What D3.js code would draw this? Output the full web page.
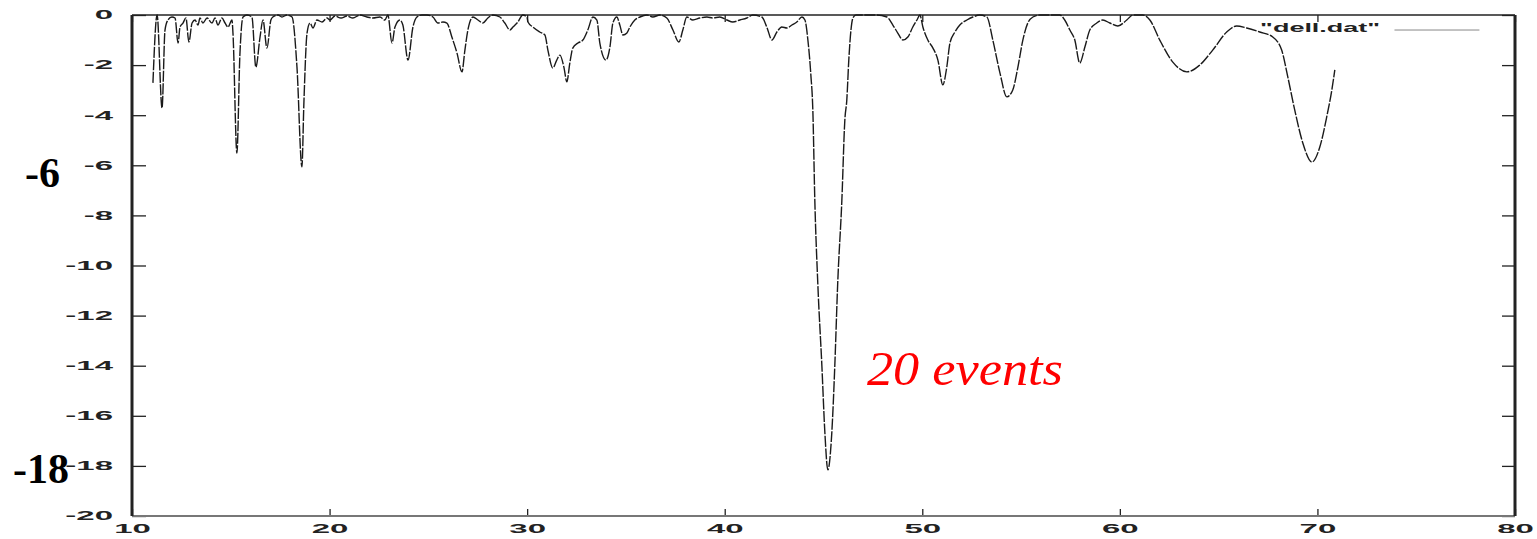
<!DOCTYPE html>
<html lang="en">
<head>
  <meta charset="UTF-8">
  <script type="text/javascript" src="https://cdn.jsdelivr.net/npm/d3@7/dist/d3.min.js"></script>
  <title>dell.dat</title>
  <style type="text/css">
    * {
      margin: 0;
      padding: 0;
    }

    html, body {
      width: 100%;
      height: 100%;
      background-color: #fff;
      overflow: hidden;
    }
  </style>
</head>

<body>
<div id="box"></div>
</body>
<script type="text/javascript">
  // data (x, value)
  var xVals = [11.06, 11.27, 11.52, 11.67, 11.82, 12.02, 12.18, 12.33, 12.43, 12.58, 12.73, 12.88, 13.04, 13.19, 13.34,
    13.44, 13.59, 13.80, 14.05, 14.20, 14.35, 14.55, 14.71, 14.86, 15.06, 15.11, 15.31, 15.46, 15.62, 15.82,
    16.07, 16.27, 16.48, 16.63, 16.83, 17.03, 17.13, 17.39, 17.59, 17.84, 18.10, 18.35, 18.60, 18.70, 18.86,
    19.01, 19.16, 19.36, 19.62, 19.87, 20.02, 20.27, 20.58, 20.88, 21.18, 21.54, 21.89, 22.19, 22.55, 22.80,
    22.95, 23.16, 23.31, 23.56, 23.71, 23.97, 24.22, 24.42, 24.67, 24.93, 25.23, 25.48, 25.74, 25.94, 26.19,
    26.45, 26.70, 26.85, 27.00, 27.26, 27.51, 27.76, 28.01, 28.27, 28.62, 28.87, 29.13, 29.28, 29.53, 29.78,
    29.99, 30.04, 30.29, 30.64, 30.90, 31.05, 31.30, 31.50, 31.66, 31.86, 32.01, 32.16, 32.31, 32.57, 32.82,
    33.07, 33.33, 33.53, 33.68, 33.99, 34.19, 34.34, 34.54, 34.69, 34.85, 35.05, 35.20, 35.45, 35.71, 36.06,
    36.36, 36.72, 37.07, 37.38, 37.68, 37.88, 38.08, 38.39, 38.74, 39.10, 39.40, 39.75, 40.11, 40.41, 40.77,
    41.12, 41.42, 41.88, 42.13, 42.39, 42.64, 42.89, 43.15, 43.40, 43.65, 43.91, 44.06, 44.21, 44.36, 44.46,
    44.56, 44.71, 44.92, 45.07, 45.22, 45.42, 45.57, 45.72, 45.93, 46.08, 46.18, 46.28, 46.39, 46.49, 46.64,
    47.20, 47.70, 48.21, 48.51, 48.76, 49.02, 49.27, 49.52, 49.73, 49.88, 50.03, 50.28, 50.54, 50.79, 51.04,
    51.24, 51.40, 51.65, 51.90, 52.26, 52.56, 52.91, 53.27, 53.57, 53.93, 54.28, 54.58, 54.84, 55.09, 55.34,
    55.60, 55.95, 56.45, 56.96, 57.21, 57.47, 57.72, 57.97, 58.23, 58.48, 58.83, 59.14, 59.49, 59.90, 60.35,
    60.66, 61.16, 61.52, 62.02, 62.68, 63.39, 64.04, 64.70, 65.41, 65.91, 66.42, 67.08, 67.74, 68.19, 68.50,
    68.85, 69.26, 69.72, 70.12, 70.47, 70.73, 70.88]
  var yVals = [-2.71, 0, -3.71, -0.60, -0.20, -0.08, -0.12, -1.12, -0.48, -0.32, -0.12, -1.08, -0.32, -0.20, -0.40,
    -0.12, -0.32, -0.12, -0.32, -0.12, -0.40, -0.12, -0.32, -0.48, -0.20, -0.72, -5.51, -1.60, -0.08, 0,
    -0.08, -2.08, -0.88, -0.20, -1.32, -0.20, -0.08, 0, -0.08, 0, -0.08, -2.08, -6.06, -3.51, -0.72,
    -0.32, -0.52, -0.20, -0.28, -0.12, -0.20, -0.04, -0.12, -0.04, -0.12, 0, -0.08, -0.12, -0.08, -0.20,
    0, -1.12, -0.48, -0.20, -0.40, -1.80, -0.48, -0.08, 0, 0, -0.08, -0.32, -0.28, -0.32, -0.88,
    -1.52, -2.27, -1.40, -0.60, -0.08, -0.20, -0.32, -0.12, 0, -0.08, -0.32, -0.60, -0.48, -0.28, 0,
    -0.08, -0.28, -0.48, -0.68, -0.80, -1.40, -2.12, -1.80, -1.60, -2.08, -2.67, -1.92, -1.32, -1.12, -1.00,
    -0.60, -0.08, -0.20, -1.12, -1.80, -1.28, -0.32, -0.08, -0.40, -0.80, -0.72, -0.48, -0.20, -0.08, 0,
    -0.08, 0, -0.12, -0.60, -1.08, -0.60, -0.08, -0.20, -0.12, -0.08, -0.12, -0.08, -0.20, -0.28, -0.20,
    -0.12, 0, -0.08, -0.48, -1.00, -0.68, -0.48, -0.52, -0.40, -0.28, -0.08, -0.20, -1.00, -2.39, -3.79,
    -7.38, -10.69, -14.04, -16.68, -18.16, -16.68, -14.04, -10.69, -7.38, -4.19, -3.39, -1.80, -0.60, -0.12, 0,
    0, 0, -0.08, -0.40, -0.72, -1.00, -0.88, -0.48, -0.20, 0, -0.48, -1.00, -1.32, -1.80, -2.79,
    -2.08, -1.12, -0.68, -0.40, -0.20, -0.08, 0, -0.08, -1.00, -2.31, -3.27, -2.99, -2.08, -1.00, -0.32,
    -0.08, 0, 0, 0, -0.20, -0.60, -1.00, -1.92, -1.28, -0.60, -0.32, -0.20, -0.32, -0.44, -0.20,
    0, 0, -0.20, -1.00, -1.88, -2.27, -2.00, -1.40, -0.68, -0.44, -0.52, -0.68, -0.88, -1.40, -2.47,
    -3.79, -5.11, -5.87, -5.27, -4.07, -2.99, -2.19]

  var xTicks = [10, 20, 30, 40, 50, 60, 70, 80]
  var yTicks = [0, -2, -4, -6, -8, -10, -12, -14, -16, -18, -20]
  var bigLabels = ['-6', '-18']
  var bigValues = [-6, -18]
  var seriesName = '"dell.dat"'
  var note = '20 events'

  // canvas
  var W = 1537, H = 539
  var margin = {left: 132, top: 15, right: 22, bottom: 23}
  var width = W - margin.left - margin.right
  var height = H - margin.top - margin.bottom

  var svg = d3.select('#box')
    .append('svg')
    .attr('width', W)
    .attr('height', H)
    .style('display', 'block')

  var g = svg.append('g').attr('transform', 'translate(' + margin.left + ',' + margin.top + ')')

  var x = d3.scaleLinear().domain([10, 80]).range([0, width])
  var y = d3.scaleLinear().domain([-20, 0]).range([height, 0])

  var sx = 2.75   // the old plot is stretched sideways
  var fmt = function (d) { return String(d) }

  // left axis, ticks point inward
  var left = g.append('g')
    .call(d3.axisLeft(y).tickValues(yTicks).tickSize(-14).tickFormat(fmt))
  left.selectAll('text')
    .attr('x', -19 / sx)
    .attr('transform', 'scale(' + sx + ',1)')

  // bottom axis
  var bottom = g.append('g').attr('transform', 'translate(0,' + height + ')')
    .call(d3.axisBottom(x).tickValues(xTicks).tickSize(-7).tickFormat(fmt))
  bottom.selectAll('text')
    .attr('y', 0)
    .attr('dy', '0.75em')
    .attr('transform', 'translate(0,8) scale(' + sx + ',1)')

  // mirrored ticks
  g.append('g').call(d3.axisTop(x).tickValues(xTicks).tickSize(-7).tickFormat(''))
  g.append('g').attr('transform', 'translate(' + width + ',0)')
    .call(d3.axisRight(y).tickValues(yTicks).tickSize(-13).tickFormat(''))

  g.selectAll('.domain').remove()
  g.selectAll('.tick line').attr('stroke', '#222').attr('stroke-width', 1.3)
  g.selectAll('.tick text')
    .attr('fill', '#222')
    .style('font-family', 'Liberation Sans, Arial, sans-serif')
    .style('font-size', '12px')
    .style('font-weight', 'bold')

  // frame
  g.append('line').attr('x1', 0).attr('x2', width).attr('y1', 0).attr('y2', 0)
    .attr('stroke', '#222').attr('stroke-width', 1.5)
  g.append('line').attr('x1', 0).attr('x2', width).attr('y1', height).attr('y2', height)
    .attr('stroke', '#777').attr('stroke-width', 2)
  g.append('line').attr('x1', 0).attr('x2', 0).attr('y1', 0).attr('y2', height)
    .attr('stroke', '#222').attr('stroke-width', 3)
  g.append('line').attr('x1', width).attr('x2', width).attr('y1', 0).attr('y2', height)
    .attr('stroke', '#222').attr('stroke-width', 3)

  // the series
  var pts = xVals.map(function (d, i) { return [d, yVals[i]] })
  var line = d3.line()
    .x(function (d) { return x(d[0]) })
    .y(function (d) { return y(d[1]) })
    .curve(d3.curveMonotoneX)

  g.append('path')
    .datum(pts)
    .attr('d', line)
    .attr('fill', 'none')
    .attr('stroke', '#1a1a1a')
    .attr('stroke-width', 1.4)
    .attr('stroke-dasharray', '11,1.5')

  // legend
  g.append('text')
    .attr('x', x(67.1))
    .attr('y', y(-0.66))
    .attr('textLength', 120)
    .attr('lengthAdjust', 'spacingAndGlyphs')
    .attr('fill', '#222')
    .style('font-family', 'Liberation Sans, Arial, sans-serif')
    .style('font-size', '13px')
    .style('font-weight', 'bold')
    .text(seriesName)
  g.append('line')
    .attr('x1', x(73.9)).attr('x2', x(78.2))
    .attr('y1', y(-0.6)).attr('y2', y(-0.6))
    .attr('stroke', '#888').attr('stroke-width', 1)

  // big hand labels on the left
  var big = [{t: bigLabels[0], v: bigValues[0], dx: 60, dy: 22}, {t: bigLabels[1], v: bigValues[1], dx: 69, dy: 17}]
  svg.selectAll('.big')
    .data(big)
    .enter()
    .append('text')
    .attr('class', 'big')
    .attr('x', function (d) { return d.dx })
    .attr('y', function (d) { return margin.top + y(d.v) + d.dy })
    .attr('text-anchor', 'end')
    .attr('fill', '#000')
    .style('font-family', 'Liberation Serif, Times New Roman, serif')
    .style('font-size', '42px')
    .style('font-weight', 'bold')
    .text(function (d) { return d.t })

  // red note
  g.append('text')
    .attr('x', x(47.2))
    .attr('y', y(-14.77))
    .attr('textLength', 196)
    .attr('lengthAdjust', 'spacingAndGlyphs')
    .attr('fill', '#ff0000')
    .style('font-family', 'Liberation Serif, Times New Roman, serif')
    .style('font-size', '49px')
    .style('font-style', 'italic')
    .text(note)
</script>
</html>
